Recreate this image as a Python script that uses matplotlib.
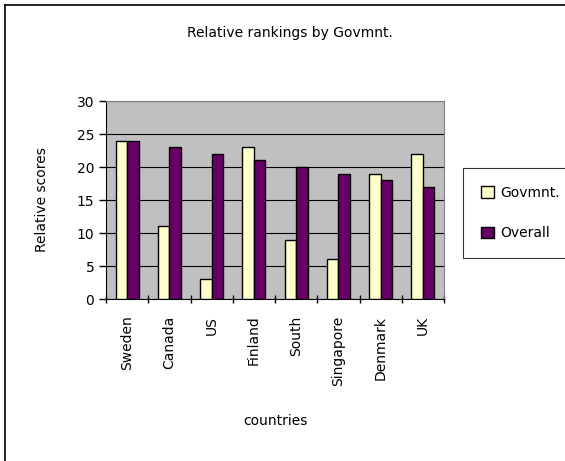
import numpy as np
import matplotlib
matplotlib.use("Agg")
import matplotlib.pyplot as plt
from matplotlib.lines import Line2D

# chart data
countries = ["Sweden", "Canada", "US", "Finland", "South", "Singapore", "Denmark", "UK"]
govmnt = [24, 11, 3, 23, 9, 6, 19, 22]
overall = [24, 23, 22, 21, 20, 19, 18, 17]

W, H = 565, 461
fig = plt.figure(figsize=(W / 100, H / 100), dpi=100)

# plot area in pixels: x 106-444, y 101-299
ax = fig.add_axes([106 / W, 1 - 299 / H, (444 - 106) / W, (299 - 101) / H])
ax.set_facecolor("#C0C0C0")

x = np.arange(len(countries))
bw = 0.27
ax.bar(x - bw / 2, govmnt, bw, color="#FFFFCC", edgecolor="black", linewidth=1, label="Govmnt.", zorder=3)
ax.bar(x + bw / 2, overall, bw, color="#660066", edgecolor="black", linewidth=1, label="Overall", zorder=3)

ax.set_xlim(-0.5, len(countries) - 0.5)
ax.set_ylim(0, 30)
ax.set_yticks(range(0, 31, 5))
ax.yaxis.grid(True, color="black", linewidth=0.8, zorder=1)

ax.set_xticks(list(x - 0.5) + [len(countries) - 0.5])
ax.set_xticklabels([])
ax.set_xticks(x, minor=True)
ax.set_xticklabels(countries, minor=True, rotation=90, fontsize=10)
ax.tick_params(axis="x", which="minor", length=0, pad=12)
ax.tick_params(axis="x", which="major", length=6, direction="inout", width=1)
ax.tick_params(axis="y", length=5, direction="out", labelsize=10, width=1)

for s in ["top", "right"]:
    ax.spines[s].set_color("#808080")

ax.set_ylabel("Relative scores", fontsize=10, labelpad=20)
ax.set_xlabel("countries", fontsize=10, labelpad=20)

fig.text(290 / W, 1 - 33 / H, "Relative rankings by Govmnt.", ha="center", va="center", fontsize=10)

leg = fig.legend(loc="upper left", bbox_to_anchor=(463 / W, 1 - 168 / H), fontsize=10,
                 frameon=True, fancybox=False, edgecolor="black", handlelength=0.9,
                 handleheight=0.9, labelspacing=1.9, borderpad=1.3, handletextpad=0.5,
                 borderaxespad=0)
leg.get_frame().set_linewidth(0.8)

# outer chart border (left and top visible)
fig.add_artist(Line2D([5 / W, 5 / W], [0, 1 - 5 / H], color="black", linewidth=1.2))
fig.add_artist(Line2D([5 / W, 1], [1 - 5 / H, 1 - 5 / H], color="black", linewidth=1.2))

fig.savefig("out.png", dpi=100)
